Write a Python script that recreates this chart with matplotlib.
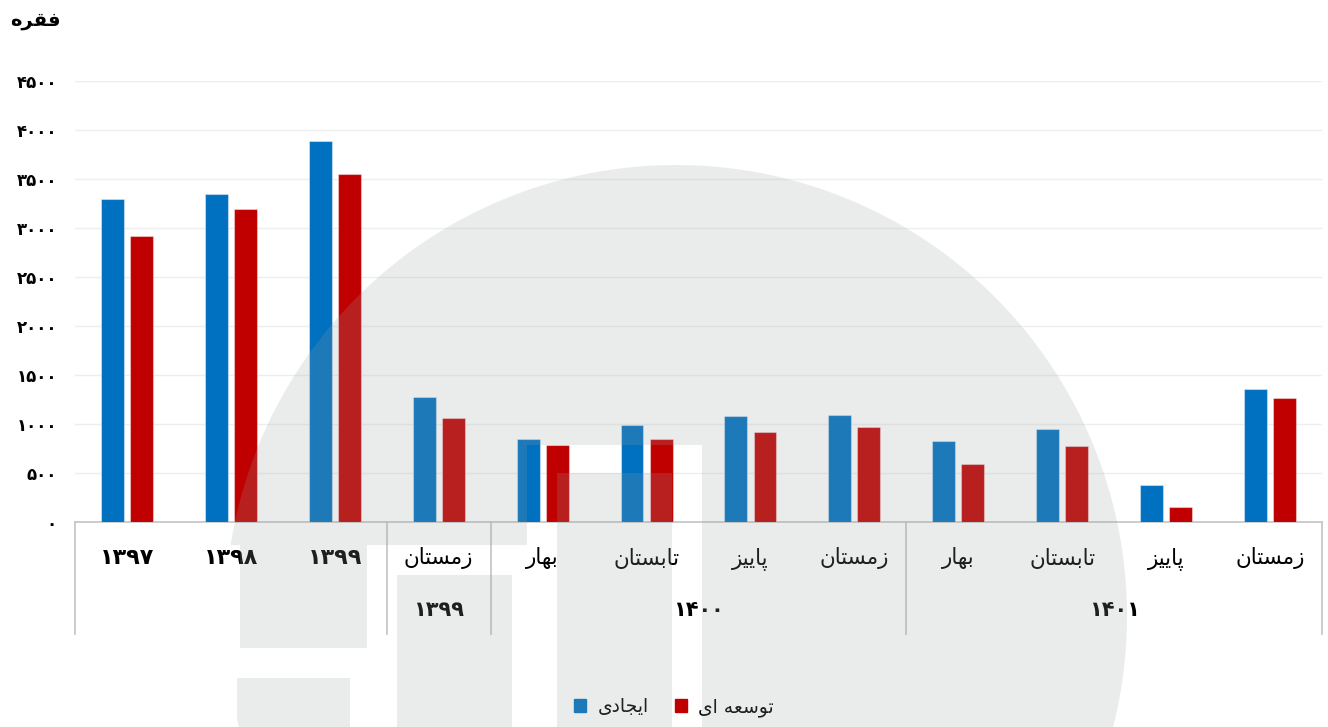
import numpy as np
import matplotlib
matplotlib.use('Agg')
import matplotlib.pyplot as plt
from matplotlib.lines import Line2D
from matplotlib.patches import Patch

# quarterly / yearly counts
periods = ['1397', '1398', '1399', 'زمستان', 'بهار', 'تابستان', 'پاییز',
           'زمستان', 'بهار', 'تابستان', 'پاییز', 'زمستان']
ijadi = [3300, 3350, 3890, 1280, 850, 990, 1080, 1090, 830, 950, 380, 1360]
tosee = [2920, 3190, 3550, 1060, 790, 850, 920, 970, 590, 780, 150, 1270]

# second level of the axis: (label, first index, last index)
years = [('1399', 3, 3), ('1400', 4, 7), ('1401', 8, 11)]
seps = [-0.5, 2.5, 3.5, 7.5, 11.5]

yticks = list(range(0, 4501, 500))
names = ['ایجادی', 'توسعه ای']
unit = 'فقره'

FORMS = {
    'ا': ('\uFE8D', '\uFE8E', None, None),
    'ب': ('\uFE8F', '\uFE90', '\uFE91', '\uFE92'),
    'پ': ('\uFB56', '\uFB57', '\uFB58', '\uFB59'),
    'ت': ('\uFE95', '\uFE96', '\uFE97', '\uFE98'),
    'ج': ('\uFE9D', '\uFE9E', '\uFE9F', '\uFEA0'),
    'د': ('\uFEA9', '\uFEAA', None, None),
    'ر': ('\uFEAD', '\uFEAE', None, None),
    'ز': ('\uFEAF', '\uFEB0', None, None),
    'س': ('\uFEB1', '\uFEB2', '\uFEB3', '\uFEB4'),
    'ع': ('\uFEC9', '\uFECA', '\uFECB', '\uFECC'),
    'ف': ('\uFED1', '\uFED2', '\uFED3', '\uFED4'),
    'ق': ('\uFED5', '\uFED6', '\uFED7', '\uFED8'),
    'م': ('\uFEE1', '\uFEE2', '\uFEE3', '\uFEE4'),
    'ن': ('\uFEE5', '\uFEE6', '\uFEE7', '\uFEE8'),
    'ه': ('\uFEE9', '\uFEEA', '\uFEEB', '\uFEEC'),
    'و': ('\uFEED', '\uFEEE', None, None),
    'ی': ('\uFBFC', '\uFBFD', '\uFBFE', '\uFBFF'),
}
FA_DIGITS = str.maketrans('0123456789', '۰۱۲۳۴۵۶۷۸۹')


def fa(s):
    # digits -> persian digits, words -> joined glyphs in visual order
    s = str(s)
    if s.isdigit():
        return s.translate(FA_DIGITS)
    out = []
    for i, ch in enumerate(s):
        f = FORMS.get(ch)
        if f is None:
            out.append(ch)
            continue
        prev = s[i - 1] if i > 0 else ''
        nxt = s[i + 1] if i + 1 < len(s) else ''
        jp = prev in FORMS and FORMS[prev][2] is not None
        jn = f[2] is not None and nxt in FORMS
        if jp and jn:
            out.append(f[3])
        elif jp:
            out.append(f[1])
        elif jn:
            out.append(f[2])
        else:
            out.append(f[0])
    return ''.join(reversed(out))


plt.rcParams['font.family'] = ['DejaVu Sans']

W, H = 1328, 727
fig = plt.figure(figsize=(W / 100, H / 100), dpi=100)
ax = fig.add_axes([75 / W, 205 / H, 1247 / W, 441 / H])

x = np.arange(len(periods))
ax.bar(x - 0.14, ijadi, 0.22, color='#0070C0', edgecolor=(1, 1, 1, 0.4), lw=0.8, zorder=3)
ax.bar(x + 0.14, tosee, 0.22, color='#C00000', edgecolor=(1, 1, 1, 0.4), lw=0.8, zorder=3)

ax.set_xlim(-0.5, len(periods) - 0.5)
ax.set_ylim(0, 4500)
ax.set_yticks(yticks)
ax.set_yticklabels([fa(v) for v in yticks], fontsize=12, fontweight='bold')
ax.tick_params(axis='y', length=0, pad=13)
ax.set_xticks([])
ax.grid(axis='y', color='#eeeeee', lw=1, zorder=0)
for s in ['top', 'right', 'left']:
    ax.spines[s].set_visible(False)
ax.spines['bottom'].set_color('#c8c8c8')
ax.spines['bottom'].set_linewidth(1.3)

tr = ax.get_xaxis_transform()
for i, p in enumerate(periods):
    if p.isdigit():
        ax.text(i, -0.082, fa(p), transform=tr, ha='center', va='center',
                fontsize=16, fontweight='bold')
    else:
        ax.text(i, -0.082, fa(p), transform=tr, ha='center', va='center', fontsize=15.5)
for lab, a, b in years:
    ax.text((a + b) / 2, -0.2, fa(lab), transform=tr, ha='center', va='center',
            fontsize=15, fontweight='bold')
for sx in seps:
    ax.add_line(Line2D([sx, sx], [0, -0.255], transform=tr, color='#c8c8c8',
                       lw=1.3, clip_on=False))

fig.text(10 / W, 1 - 20 / H, fa(unit), fontsize=14, fontweight='bold', va='center', ha='left')

handles = [Patch(color='#0070C0'), Patch(color='#C00000')]
fig.legend(handles, [fa(n) for n in names], loc='center', bbox_to_anchor=(674 / W, 20 / H),
           ncol=2, frameon=False, fontsize=13.5, handlelength=0.65, handleheight=0.65,
           handletextpad=0.6, columnspacing=1.4)

# faint logo drawn over the chart
yy, xx = np.mgrid[0:H, 0:W] + 0.5
d = np.hypot(xx - 676, yy - 616)
disc = np.clip(451 - d + 0.5, 0, 1)
holes = ((yy >= 545) & (xx < 527)) | ((xx >= 527) & (xx < 702) & (yy >= 445))
blocks = np.zeros_like(holes)
for x0, x1, y0, y1 in [(240, 367, 545, 648), (237, 350, 678, 727),
                       (397, 512, 575, 727), (557, 672, 473, 727)]:
    blocks |= (xx >= x0) & (xx < x1) & (yy >= y0) & (yy < y1)
mask = disc * (~holes | blocks)
img = np.zeros((H, W, 4))
img[..., 0] = 153 / 255
img[..., 1] = 158 / 255
img[..., 2] = 158 / 255
img[..., 3] = 0.2 * mask

ov = fig.add_axes([0, 0, 1, 1], zorder=10)
ov.imshow(img, extent=(0, W, H, 0), interpolation='nearest', aspect='auto')
ov.set_xlim(0, W)
ov.set_ylim(H, 0)
ov.axis('off')
ov.patch.set_visible(False)

fig.savefig('out.png', dpi=100)
